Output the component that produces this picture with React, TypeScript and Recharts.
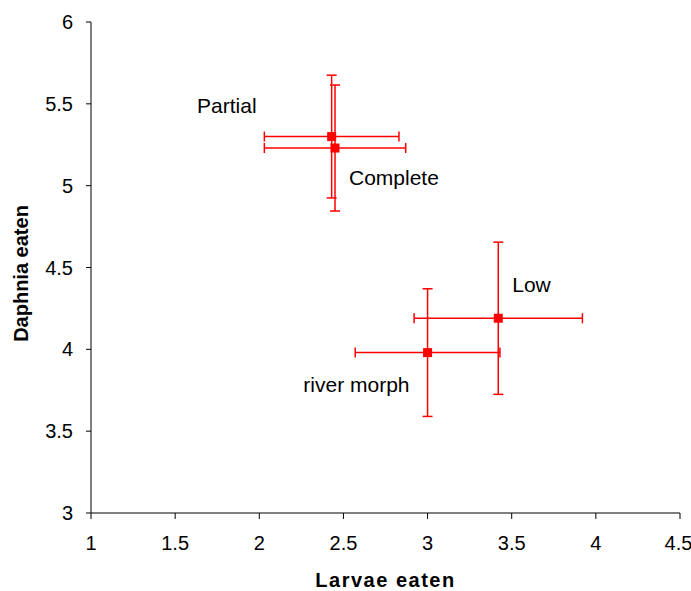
import { ScatterChart, Scatter, XAxis, YAxis, ErrorBar, Label } from 'recharts';

const groups = ['Partial', 'Complete', 'Low', 'river morph'];
const larvaeEaten = [2.43, 2.45, 3.42, 3.0];
const daphniaEaten = [5.3, 5.23, 4.19, 3.98];
const larvaeErr = [0.4, 0.42, 0.5, 0.43];
const daphniaErr = [0.375, 0.385, 0.465, 0.39];

const xTicks = [1, 1.5, 2, 2.5, 3, 3.5, 4, 4.5];
const yTicks = [3, 3.5, 4, 4.5, 5, 5.5, 6];

const FONT = '"Liberation Sans", Arial, sans-serif';
const RED = '#ff0000';

// where each group's name sits relative to its point
const labelPlacement: Record<string, { dx: number; dy: number; anchor: 'start' | 'end' }> = {
  Partial: { dx: -75, dy: -24, anchor: 'end' },
  Complete: { dx: 14, dy: 37, anchor: 'start' },
  Low: { dx: 14, dy: -26, anchor: 'start' },
  'river morph': { dx: -18, dy: 39, anchor: 'end' },
};

const data = groups.map((name, i) => ({
  name,
  x: larvaeEaten[i],
  y: daphniaEaten[i],
  errX: larvaeErr[i],
  errY: daphniaErr[i],
}));

const PointShape = (props: any) => {
  const { cx, cy, payload } = props;
  const p = labelPlacement[payload.name];
  return (
    <g>
      <rect x={cx - 4.5} y={cy - 4.5} width={9} height={9} fill={RED} />
      <text
        x={cx + p.dx}
        y={cy + p.dy}
        textAnchor={p.anchor}
        fontSize={21}
        fontFamily={FONT}
        fill="#000"
      >
        {payload.name}
      </text>
    </g>
  );
};

export default function App() {
  return (
    <div style={{ position: 'absolute', left: 0, top: 0, background: '#fff' }}>
      <ScatterChart width={691} height={591} margin={{ top: 22, right: 11, bottom: 0, left: 0 }}>
        <XAxis
          type="number"
          dataKey="x"
          domain={[1, 4.5]}
          ticks={xTicks}
          height={78}
          stroke="#000"
          tickSize={6}
          tickMargin={17}
          tick={{ fill: '#000', fontSize: 20, fontFamily: FONT }}
        >
          <Label
            value="Larvae eaten"
            position="insideBottom"
            offset={4}
            fill="#000"
            fontSize={20}
            fontWeight="bold"
            fontFamily={FONT}
            style={{ letterSpacing: 1.5 }}
          />
        </XAxis>
        <YAxis
          type="number"
          dataKey="y"
          domain={[3, 6]}
          ticks={yTicks}
          width={91}
          stroke="#000"
          tickSize={5}
          tickMargin={13}
          tick={{ fill: '#000', fontSize: 20, fontFamily: FONT }}
        >
          <Label
            content={({ viewBox }: any) => {
              const cx = viewBox.x + 21;
              const cy = viewBox.y + viewBox.height / 2 + 6;
              return (
                <text
                  x={cx}
                  y={cy}
                  transform={`rotate(-90 ${cx} ${cy})`}
                  textAnchor="middle"
                  dominantBaseline="central"
                  fontSize={20}
                  fontWeight="bold"
                  fontFamily={FONT}
                  fill="#000"
                >
                  Daphnia eaten
                </text>
              );
            }}
          />
        </YAxis>
        <Scatter data={data} fill={RED} shape={PointShape} isAnimationActive={false}>
          <ErrorBar dataKey="errX" direction="x" width={5} stroke={RED} strokeWidth={1.5} />
          <ErrorBar dataKey="errY" direction="y" width={5} stroke={RED} strokeWidth={1.5} />
        </Scatter>
      </ScatterChart>
    </div>
  );
}
